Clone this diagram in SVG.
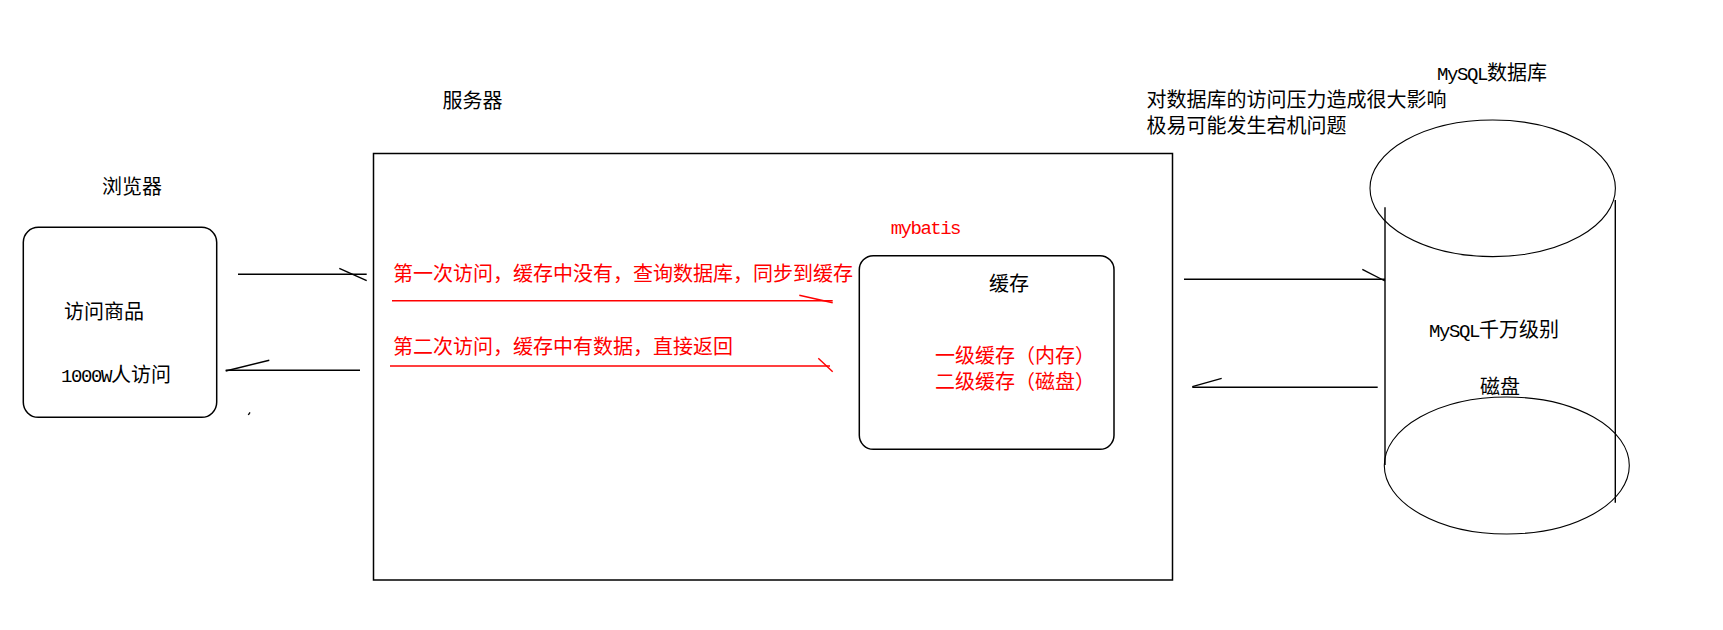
<svg xmlns="http://www.w3.org/2000/svg" width="1723" height="630" viewBox="0 0 1723 630">
<style>
.t{font-family:"Noto Sans CJK SC","Noto Sans",sans-serif;font-size:20px;fill:#000}
.r{fill:#ff0000}
.m{font-family:"Liberation Mono",monospace;font-size:19px;letter-spacing:-1.4px}
.box{fill:none;stroke:#000;stroke-width:1.5}
.thin{fill:none;stroke:#000;stroke-width:1.1}
.ln{stroke:#000;stroke-width:1.4;fill:none}
.rl{stroke:#ff0000;stroke-width:1.4;fill:none}
</style>
<rect width="1723" height="630" fill="#fff"/>
<g id="browser">
<text class="t" x="102" y="194">浏览器</text>
<rect class="box" x="23.3" y="227.3" width="193.4" height="190" rx="15"/>
<text class="t" x="64" y="319">访问商品</text>
<text class="t" x="61" y="382"><tspan class="m">1000W</tspan>人访问</text>
</g>
<g id="server">
<text class="t" x="442.5" y="108">服务器</text>
<rect class="box" x="373.5" y="153.5" width="799" height="426.5"/>
</g>
<g id="cache">
<text class="t r m" x="890.7" y="234" style="letter-spacing:-1.5px">mybatis</text>
<rect class="box" x="859.3" y="255.7" width="254.7" height="193.6" rx="14"/>
<text class="t" x="989" y="290.5">缓存</text>
<text class="t r" x="935" y="363">一级缓存（内存）</text>
<text class="t r" x="935" y="389">二级缓存（磁盘）</text>
</g>
<g id="database">
<text class="t" x="1437" y="80"><tspan class="m">MySQL</tspan>数据库</text>
<text class="t" x="1146.5" y="107">对数据库的访问压力造成很大影响</text>
<text class="t" x="1146.5" y="133">极易可能发生宕机问题</text>
<ellipse class="thin" cx="1492.7" cy="188.3" rx="122.7" ry="68.3"/>
<ellipse class="thin" cx="1506.8" cy="465.5" rx="122.5" ry="68.5"/>
<line class="ln" x1="1385" y1="207.3" x2="1385" y2="465"/>
<line class="ln" x1="1615.3" y1="200" x2="1615.3" y2="502.7"/>
<text class="t" x="1429" y="336.5"><tspan class="m">MySQL</tspan>千万级别</text>
<text class="t" x="1480" y="394">磁盘</text>
</g>
<g id="connectors">
<line class="ln" x1="238" y1="274.3" x2="366.7" y2="274.3"/>
<line class="ln" x1="339.3" y1="268.3" x2="366.7" y2="280.7"/>
<line class="ln" x1="225.7" y1="370.3" x2="360" y2="370.3"/>
<line class="ln" x1="225.7" y1="371" x2="269.3" y2="360.3"/>
<line class="ln" x1="248.3" y1="415" x2="250" y2="412.3"/>
<text class="t r" x="393" y="280.5">第一次访问，缓存中没有，查询数据库，同步到缓存</text>
<line class="rl" x1="392" y1="300.7" x2="832.7" y2="300.7"/>
<line class="rl" x1="799.3" y1="295.3" x2="832.7" y2="302.7"/>
<text class="t r" x="393" y="354">第二次访问，缓存中有数据，直接返回</text>
<line class="rl" x1="390" y1="366" x2="830" y2="366"/>
<line class="rl" x1="818.3" y1="358.3" x2="832.7" y2="371.7"/>
<line class="ln" x1="1184" y1="279.3" x2="1385" y2="279.3"/>
<line class="ln" x1="1362.3" y1="269.3" x2="1385" y2="281"/>
<line class="ln" x1="1192.3" y1="387.3" x2="1377.7" y2="387.3"/>
<line class="ln" x1="1192.3" y1="386.7" x2="1221.7" y2="378.3"/>
</g>
</svg>
